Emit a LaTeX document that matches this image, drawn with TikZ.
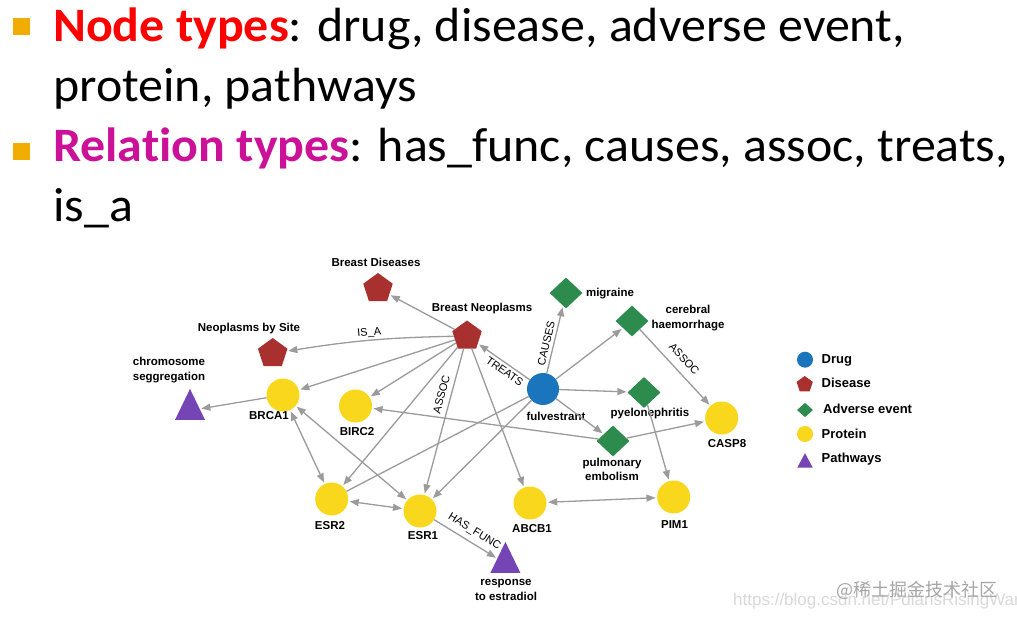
\documentclass[tikz,border=0pt]{standalone}
\usepackage{fontspec}
\setmainfont{Carlito}[Ligatures=NoCommon,FakeStretch=1.04]
\newfontfamily\arialfont{Liberation Sans}
\newfontfamily\cjkfont{Noto Sans CJK SC}
\usetikzlibrary{shapes.geometric,arrows.meta}
\definecolor{drugblue}{HTML}{1B75BC}
\definecolor{diseasered}{HTML}{A8302F}
\definecolor{aegreen}{HTML}{2E8B4E}
\definecolor{protyellow}{HTML}{F9D71C}
\definecolor{pathpurple}{HTML}{7545B6}
\definecolor{edgegray}{HTML}{9B9B9B}
\definecolor{bulletorange}{HTML}{F0AD00}
\definecolor{titlered}{HTML}{FF0000}
\definecolor{titlemagenta}{HTML}{CC1199}

\begin{document}
\begin{tikzpicture}[x=1pt,y=1pt,>={Triangle[length=9pt,width=7pt]},
    drug/.style={circle,fill=drugblue,inner sep=0pt,minimum size=32pt},
    protein/.style={circle,fill=protyellow,inner sep=0pt,minimum size=33pt},
    disease/.style={regular polygon,regular polygon sides=5,fill=diseasered,inner sep=0pt,minimum size=31pt},
    adverse/.style={diamond,fill=aegreen,inner sep=0pt,minimum width=33pt,minimum height=31pt},
    pathway/.style={isosceles triangle,isosceles triangle stretches,shape border rotate=90,fill=pathpurple,inner sep=0pt,minimum width=30pt,minimum height=31pt},
    lbl/.style={font=\arialfont\bfseries\fontsize{11.5}{14.5}\selectfont,align=center,inner sep=0pt},
    leglbl/.style={font=\arialfont\bfseries\fontsize{13}{15}\selectfont,anchor=west,inner sep=0pt},
    heading/.style={font=\fontsize{48}{57}\selectfont,anchor=base west,inner sep=0pt},
    sqbullet/.style={rectangle,fill=bulletorange,inner sep=0pt,minimum size=16.5pt},
    plainedge/.style={draw=edgegray,line width=1.3pt},
    rel/.style={plainedge,->,shorten >=1.5pt},
    mutual/.style={rel,<->,shorten <=1.5pt},
    rellbl/.style={font=\arialfont\fontsize{11}{13}\selectfont,sloped,inner sep=0pt}]
  \fill[white] (0,0) rectangle (1017,-617);
  \useasboundingbox (0,0) rectangle (1017,-617);

  \node[sqbullet] (bul1) at (21.7,-26.7) {};
  \node[sqbullet] (bul2) at (21.7,-151.7) {};
  \node[heading] (line1) at (53,-42) {\textcolor{titlered}{\bfseries Node types}: drug, disease, adverse event,};
  \node[heading] (line2) at (53,-102) {protein, pathways};
  \node[heading] (line3) at (53,-162) {\textcolor{titlemagenta}{\bfseries Relation types}: has\_func, causes, assoc, treats,};
  \node[heading] (line4) at (53,-222) {is\_a};

  \node[disease] (bdis) at (378,-288.5) {};
  \node[disease] (nbs) at (272.7,-353.5) {};
  \node[disease] (bneo) at (467,-336) {};
  \node[pathway] (chrom) at (190,-410.5) {};
  \node[protein] (brca1) at (283,-395) {};
  \node[protein] (birc2) at (355.5,-406) {};
  \node[drug] (fulv) at (543,-389) {};
  \node[adverse] (migr) at (566,-293) {};
  \node[adverse] (cereb) at (632,-321) {};
  \node[adverse] (pyelo) at (644,-392.5) {};
  \node[adverse] (pulm) at (613,-441) {};
  \node[protein] (casp8) at (721.7,-418) {};
  \node[protein] (esr2) at (331.7,-499) {};
  \node[protein] (esr1) at (420,-511) {};
  \node[protein] (abcb1) at (530,-503) {};
  \node[protein] (pim1) at (673.7,-497) {};
  \node[pathway] (resp) at (505.4,-563.5) {};

  \node[lbl] (bdislab) at (376,-262) {Breast Diseases};
  \node[lbl] (nbslab) at (249,-329) {Neoplasms by Site};
  \node[lbl] (bneolab) at (482,-309) {Breast Neoplasms};
  \node[lbl] (chromlab) at (169,-370) {chromosome\\seggregation};
  \node[lbl] (brca1lab) at (269,-416) {BRCA1};
  \node[lbl] (birc2lab) at (357,-432) {BIRC2};
  \node[lbl] (fulvlab) at (556,-416) {fulvestrant};
  \node[lbl] (migrlab) at (610,-293.5) {migraine};
  \node[lbl] (cereblab) at (688,-318) {cerebral\\haemorrhage};
  \node[lbl] (pyelolab) at (650,-413.5) {pyelonephritis};
  \node[lbl] (pulmlab) at (612,-469.5) {pulmonary\\embolism};
  \node[lbl] (casp8lab) at (727,-444) {CASP8};
  \node[lbl] (esr2lab) at (330,-526) {ESR2};
  \node[lbl] (esr1lab) at (423,-536) {ESR1};
  \node[lbl] (abcb1lab) at (532,-529) {ABCB1};
  \node[lbl] (pim1lab) at (674.5,-525) {PIM1};
  \node[lbl] (resplab) at (506,-590) {response\\to estradiol};

  \draw[rel] (bneo) -- (bdis);
  \draw[rel] (bneo) to[bend right=4] node[rellbl,above=2pt] {IS\_A} (nbs);
  \draw[rel] (bneo) -- (brca1);
  \draw[rel] (bneo) -- (birc2);
  \draw[rel] (bneo) -- (esr2);
  \draw[rel] (bneo) -- node[rellbl,pos=0.33,above=5pt] {ASSOC} (esr1);
  \draw[rel] (bneo) -- (abcb1);
  \draw[rel] (fulv) -- node[rellbl,pos=0.4,below=3pt] {TREATS} (bneo);
  \draw[rel] (fulv) -- node[rellbl,pos=0.42,above=3pt] {CAUSES} (migr);
  \draw[rel] (fulv) -- (cereb);
  \draw[rel] (fulv) -- (pyelo);
  \draw[rel] (fulv) -- (pulm);
  \draw[plainedge] (fulv) -- (esr2);
  \draw[rel] (fulv) -- (esr1);
  \draw[rel] (pulm) -- (birc2);
  \draw[rel] (pulm) -- (casp8);
  \draw[rel] (cereb) -- node[rellbl,above=8pt] {ASSOC} (casp8);
  \draw[rel] (pyelo) -- (pim1);
  \draw[rel] (brca1) -- (chrom);
  \draw[mutual] (brca1) -- (esr2);
  \draw[mutual] (brca1) -- (esr1);
  \draw[mutual] (esr2) -- (esr1);
  \draw[mutual] (abcb1) -- (pim1);
  \draw[rel] (esr1) -- node[rellbl,pos=0.55,above=5pt] {HAS\_FUNC} (resp);

  \node[drug,minimum size=16pt] (legdrug) at (805,-359.7) {};
  \node[disease,minimum size=17pt] (legdis) at (804.7,-384.5) {};
  \node[adverse,minimum width=16pt,minimum height=14.5pt] (legae) at (805,-410) {};
  \node[protein,minimum size=16pt] (legprot) at (805,-434) {};
  \node[pathway,minimum width=15.5pt,minimum height=14.5pt] (legpath) at (805,-463) {};
  \node[leglbl] (legdruglab) at (821.5,-360) {Drug};
  \node[leglbl] (legdislab) at (821.5,-383) {Disease};
  \node[leglbl] (legaelab) at (823,-409) {Adverse event};
  \node[leglbl] (legprotlab) at (821.5,-434) {Protein};
  \node[leglbl] (legpathlab) at (821.5,-459) {Pathways};

  \node[anchor=west,inner sep=0pt,text=black!15,font=\arialfont\fontsize{17}{19}\selectfont] (wmurl) at (733,-601) {https://blog.csdn.net/PdiansRisingWar};
  \node[anchor=west,inner sep=0pt,text=black!35,font=\cjkfont\fontsize{18}{20}\selectfont] (wmark) at (836,-590) {@稀土掘金技术社区};
\end{tikzpicture}
\end{document}
